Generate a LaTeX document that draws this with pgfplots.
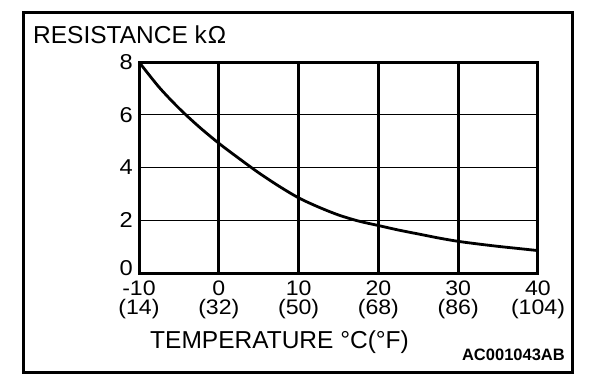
\documentclass[border=0pt]{standalone}
\usepackage{fontspec}
\setmainfont{Liberation Sans}
\newfontfamily\tickfont[FakeStretch=1.1]{Liberation Sans}
\usepackage{pgfplots}
\pgfplotsset{compat=1.18}
\begin{document}
\begin{tikzpicture}[x=1pt,y=1pt]
\path[use as bounding box] (0,0) rectangle (608,-388);
\draw[line width=3pt] (23,-12) rectangle (572,-372);
\node[anchor=base west, inner sep=0pt, font=\fontsize{24.5}{28}\selectfont] at (33,-43) {RESISTANCE k\kern1ptΩ};
\node[anchor=base west, inner sep=0pt, font=\fontsize{24.5}{28}\selectfont] at (150,-348) {TEMPERATURE °C(°F)};
\node[anchor=base east, inner sep=0pt, font=\fontsize{16.5}{19}\bfseries] at (565,-360) {AC001043AB};
\begin{axis}[
  at={(139pt,-273pt)}, anchor=south west,
  scale only axis, width=399pt, height=211pt,
  xmin=-10, xmax=40, ymin=0, ymax=8,
  xtick={-10,0,10,20,30,40},
  xticklabels={{-10\\(14)},{0\\(32)},{10\\(50)},{20\\(68)},{30\\(86)},{40\\(104)}},
  ytick={0,2,4,6,8},
  yticklabels={\raisebox{-2.5pt}[0pt][0pt]{0},2,4,6,8},
  major tick length=0pt,
  xmajorgrids,
  major grid style={line width=2.8pt, black},
  extra y ticks={2,4,6},
  extra y tick labels={},
  extra y tick style={grid=major, major grid style={line width=1.3pt, black}},
  axis line style={line width=3pt},
  xticklabel style={align=center, inner sep=0pt, yshift=-7.5pt, font=\tickfont\fontsize{21}{19.5}\selectfont},
  yticklabel style={inner sep=0pt, xshift=-6pt, font=\tickfont\fontsize{21.5}{26}\selectfont},
  clip=false,
]
\addplot[line width=2.8pt, black, smooth] coordinates {
(-10,8) (-7.5,7.05) (-5,6.25) (-2.5,5.55) (0,4.92) (2.5,4.35) (5,3.8) (7.5,3.3) (10,2.85) (12.5,2.5) (15,2.2) (17.5,1.97) (20,1.8) (22.5,1.63) (25,1.48) (27.5,1.33) (30,1.2) (32.5,1.1) (35,1.01) (37.5,0.93) (40,0.85)
};
\end{axis}
\end{tikzpicture}
\end{document}
